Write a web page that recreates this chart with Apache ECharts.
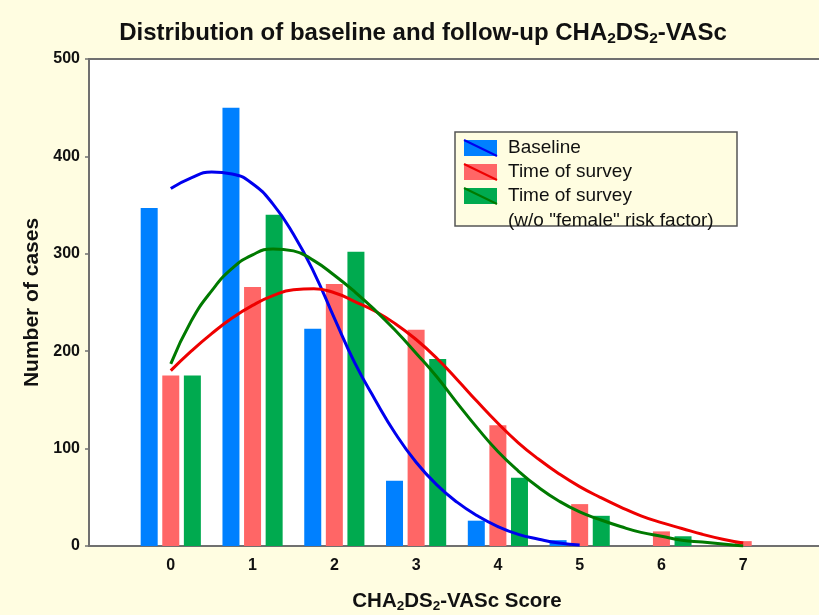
<!DOCTYPE html>
<html>
<head>
<meta charset="utf-8">
<script src="https://cdn.jsdelivr.net/npm/echarts@6/dist/echarts.min.js"></script>
<style>
html,body{margin:0;padding:0;background:#FFFDE1;overflow:hidden;}
#chart{width:819px;height:615px;}
</style>
</head>
<body>
<div id="chart"></div>
<script>
// ---- data ----
var scores = ['0', '1', '2', '3', '4', '5', '6', '7'];
var yTicks = [0, 100, 200, 300, 400, 500];
var legendExtraLine = '(w/o "female" risk factor)';

var baselineCounts = [347, 450, 223, 67, 26, 6, 0, 0];
var surveyCounts = [175, 266, 269, 222, 124, 43, 15, 5];
var surveyNoFemaleCounts = [175, 340, 302, 192, 70, 31, 10, 0];

// fitted curves: [score, cases]
var baselineCurve = [[0,367],[0.25,378],[0.5,384],[0.75,382],[1,372],[1.25,351],[1.5,320],[1.75,281],[2,234],[2.25,188],[2.5,150],[2.75,115],[3,86],[3.25,63],[3.5,45],[3.75,31],[4,20],[4.25,12],[4.5,7],[4.75,3],[5,1]];
var surveyCurve = [[0,180],[0.25,200],[0.5,218],[0.75,234],[1,247],[1.25,257],[1.5,263],[1.75,264],[2,260],[2.25,251],[2.5,241],[2.75,228],[3,212],[3.25,193],[3.5,171],[3.75,148],[4,126],[4.25,106],[4.5,89],[4.75,74],[5,61],[5.25,50],[5.5,40],[5.75,31],[6,24],[6.25,18],[6.5,12],[6.75,7],[7,3]];
var surveyNoFemaleCurve = [[0,187],[0.25,231],[0.5,262],[0.75,285],[1,299],[1.25,305],[1.5,303],[1.75,293],[2,278],[2.25,261],[2.5,242],[2.75,221],[3,198],[3.25,174],[3.5,147],[3.75,121],[4,97],[4.25,77],[4.5,60],[4.75,46],[5,35],[5.25,27],[5.5,20],[5.75,14],[6,10],[6.25,6],[6.5,4],[6.75,2],[7,0]];

// ---- styling ----
var barColors = ['#0080FF', '#FF6666', '#00AA4F'];
var curveColors = ['#0000EE', '#EE0000', '#007A00'];
var FONT = '"Liberation Sans", Arial, sans-serif';

function pad(arr) { return [null].concat(arr, [null]); }
var cats = [''].concat(scores, ['']);

var chart = echarts.init(document.getElementById('chart'), null, {renderer: 'canvas'});

var legendLeft = 455, legendTop = 132, iconW = 33, iconH = 16, rowStep = 24;
var graphics = [
  {type: 'rect', z: 3, shape: {x: legendLeft, y: legendTop, width: 282, height: 94},
   style: {fill: '#FFFDE1', stroke: '#555555', lineWidth: 1.5}},
  {type: 'text', z: 5, style: {x: legendLeft + 9 + iconW + 11, y: legendTop + 89,
   text: legendExtraLine, fill: '#111', font: '19px ' + FONT, verticalAlign: 'middle'}}
];
for (var i = 0; i < 3; i++) {
  graphics.push({type: 'line', z: 6, shape: {
    x1: legendLeft + 9, y1: legendTop + 8 + i * rowStep,
    x2: legendLeft + 9 + iconW, y2: legendTop + 8 + iconH + i * rowStep},
    style: {stroke: curveColors[i], lineWidth: 2}});
}

var option = {
  backgroundColor: '#FFFDE1',
  animation: false,
  title: {
    text: 'Distribution of baseline and follow-up CHA{s|2}DS{s|2}-VASc',
    left: 418, top: 15, textAlign: 'center',
    textStyle: {fontFamily: FONT, fontWeight: 'bold', fontSize: 24, color: '#111',
      rich: {s: {fontFamily: FONT, fontWeight: 'bold', fontSize: 15.5, color: '#111', verticalAlign: 'bottom', padding: [11, 0, 0, 0]}}}
  },
  grid: {left: 89, top: 59, width: 736, height: 487, show: true, backgroundColor: '#FFFFFF',
    borderColor: '#707070', borderWidth: 2, containLabel: false, outerBoundsMode: 'none'},
  legend: {
    data: [
      {name: 'Baseline', icon: 'rect'},
      {name: 'Time of survey', icon: 'rect'},
      {name: 'Time of survey ', icon: 'rect'}
    ],
    orient: 'vertical', left: legendLeft, top: legendTop,
    padding: [6, 8, 24, 9], itemWidth: iconW, itemHeight: iconH, itemGap: 4,
    selectedMode: false, z: 4,
    textStyle: {fontFamily: FONT, fontSize: 19, color: '#111', lineHeight: 20, padding: [0, 0, 0, 6]}
  },
  xAxis: [
    {type: 'category', data: cats, boundaryGap: false, position: 'bottom',
      axisLine: {onZero: false, lineStyle: {color: '#707070', width: 2}},
      axisTick: {show: false},
      axisLabel: {interval: 0, margin: 12, fontFamily: FONT, fontWeight: 'bold', fontSize: 16, color: '#111'},
      splitLine: {show: false},
      name: 'CHA{s|2}DS{s|2}-VASc Score', nameLocation: 'middle', nameGap: 44,
      nameTextStyle: {fontFamily: FONT, fontWeight: 'bold', fontSize: 20.5, color: '#111',
        rich: {s: {fontFamily: FONT, fontWeight: 'bold', fontSize: 13.5, color: '#111', verticalAlign: 'bottom', padding: [9, 0, 0, 0]}}}
    },
    {type: 'value', min: -1, max: 8, show: false, position: 'bottom', axisLine: {onZero: false}}
  ],
  yAxis: {
    type: 'value', min: yTicks[0], max: yTicks[yTicks.length - 1], interval: 100,
    axisLine: {show: true, onZero: false, lineStyle: {color: '#707070', width: 2}},
    axisTick: {show: true, length: 4, lineStyle: {color: '#707070', width: 1.5}},
    axisLabel: {margin: 9, fontFamily: FONT, fontWeight: 'bold', fontSize: 16, color: '#111'},
    splitLine: {show: false},
    name: 'Number of cases', nameLocation: 'middle', nameGap: 46, nameRotate: 90,
    nameTextStyle: {fontFamily: FONT, fontWeight: 'bold', fontSize: 21, color: '#111'}
  },
  series: [
    {name: 'Baseline', type: 'bar', xAxisIndex: 0, data: pad(baselineCounts), barWidth: 17, barGap: '27%',
      itemStyle: {color: barColors[0]}, z: 2},
    {name: 'Time of survey', type: 'bar', xAxisIndex: 0, data: pad(surveyCounts), barWidth: 17, barGap: '27%',
      itemStyle: {color: barColors[1]}, z: 2},
    {name: 'Time of survey ', type: 'bar', xAxisIndex: 0, data: pad(surveyNoFemaleCounts), barWidth: 17, barGap: '27%',
      itemStyle: {color: barColors[2]}, z: 2},
    {name: 'Baseline fit', type: 'line', xAxisIndex: 1, data: baselineCurve, smooth: 0.5, showSymbol: false,
      lineStyle: {color: curveColors[0], width: 3}, itemStyle: {color: curveColors[0]}, z: 3},
    {name: 'Survey fit', type: 'line', xAxisIndex: 1, data: surveyCurve, smooth: 0.5, showSymbol: false,
      lineStyle: {color: curveColors[1], width: 3}, itemStyle: {color: curveColors[1]}, z: 3},
    {name: 'Survey w/o female fit', type: 'line', xAxisIndex: 1, data: surveyNoFemaleCurve, smooth: 0.5, showSymbol: false,
      lineStyle: {color: curveColors[2], width: 3}, itemStyle: {color: curveColors[2]}, z: 3}
  ],
  graphic: graphics
};
chart.setOption(option);
</script>
</body>
</html>
